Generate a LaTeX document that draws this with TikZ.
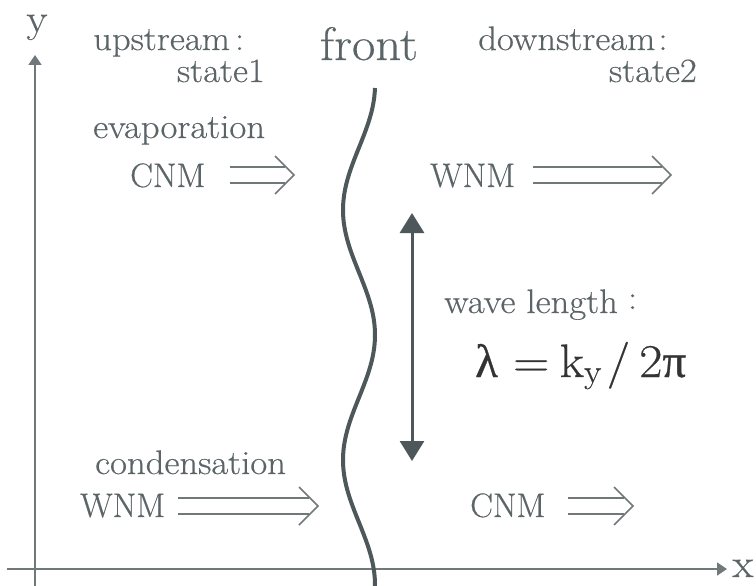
\documentclass[tikz,border=0pt]{standalone}
\usepackage{fontspec}
\setmainfont{Latin Modern Roman}[FakeStretch=1.08, FakeBold=0.4]
\newfontfamily\capsf{Latin Modern Roman}[FakeBold=0.4]
\newfontfamily\grk{Liberation Serif}[FakeBold=0.6]
\usetikzlibrary{arrows.meta}
\definecolor{txt}{HTML}{5B6467}
\definecolor{dark}{HTML}{4E585B}
\definecolor{axiscol}{HTML}{707879}
\definecolor{formula}{HTML}{333333}
\newcommand\dblarr[4]{%
  \draw[dblline] (#2,#4-8) -- (#3-9,#4-8) (#2,#4+8) -- (#3-9,#4+8);
  \draw[dblline] (#3-19,#4-19) -- (#3,#4) coordinate (#1) -- (#3-19,#4+19);}
\begin{document}
\begin{tikzpicture}[x=1pt,y=-1pt,
  lbl/.style={inner sep=0pt, text=txt, font=\fontsize{34}{40}\selectfont},
  capslbl/.style={inner sep=0pt, text=txt, font=\capsf\fontsize{34}{40}\selectfont},
  biglbl/.style={inner sep=0pt, text=txt, font=\fontsize{47}{56}\selectfont},
  axislbl/.style={inner sep=0pt, text=txt, font=\fontsize{40}{46}\selectfont},
  axisline/.style={draw=axiscol, line width=1.6pt, -{Triangle[width=13pt,length=10pt]}},
  dblline/.style={draw=axiscol, line width=1.5pt},
  frontline/.style={draw=dark, line width=4pt},
  lenarrow/.style={draw=dark, line width=3pt, {Triangle[width=24pt,length=20pt]}-{Triangle[width=24pt,length=20pt]}}
]
\useasboundingbox (0,0) rectangle (756,586);
\fill[white] (0,0) rectangle (756,586);

% axes
\coordinate (yb) at (35,586);
\coordinate (yt) at (35,55);
\coordinate (xl) at (7,569);
\coordinate (xr) at (727,569);
\draw[axisline] (yb) -- (yt);
\draw[axisline] (xl) -- (xr);
\node[axislbl, anchor=base] (ylab) at (37,32) {y};
\node[axislbl, anchor=base] (xlab) at (743,577) {x};

% front
\draw[frontline] plot[domain=88:586, samples=120, smooth] ({359+16*cos(1.44*(\x-85))}, \x);
\node[biglbl, anchor=base] (front) at (369,60) {front};

% wavelength arrow
\coordinate (la) at (412,213);
\coordinate (lb) at (412,461);
\draw[lenarrow] (la) -- (lb);

% labels
\node[lbl, anchor=base west] (up) at (93,50) {upstream\hspace{5pt}:};
\node[lbl, anchor=base east] (s1) at (265,82) {state1};
\node[lbl, anchor=base west] (down) at (478,50) {downstream\hspace{3pt}:};
\node[lbl, anchor=base east] (s2) at (697,82) {state2};
\node[lbl, anchor=base west] (evap) at (93,138) {evaporation};
\node[capslbl, anchor=base west] (cnm1) at (130,187) {CNM};
\node[capslbl, anchor=base west] (wnm1) at (430,187) {WNM};
\node[lbl, anchor=base west] (wl) at (444,313) {wave length\hspace{10pt}\raisebox{4pt}{:}};
\node[inner sep=0pt, text=formula, font=\fontsize{47}{54}\selectfont, anchor=base west] (lam) at (475,377)
  {{\grk λ}\hspace{15pt}=\hspace{10pt}k\textsubscript{y}\hspace{5pt}/\hspace{9pt}2{\grk π}};
\node[lbl, anchor=base west] (cond) at (95,474) {condensation};
\node[capslbl, anchor=base west] (wnm2) at (80,517) {WNM};
\node[capslbl, anchor=base west] (cnm2) at (470,517) {CNM};

% flow arrows
\dblarr{a1}{230}{294}{175}
\dblarr{a2}{533}{671}{175}
\dblarr{a3}{178}{318}{506}
\dblarr{a4}{568}{633}{506}
\end{tikzpicture}
\end{document}
